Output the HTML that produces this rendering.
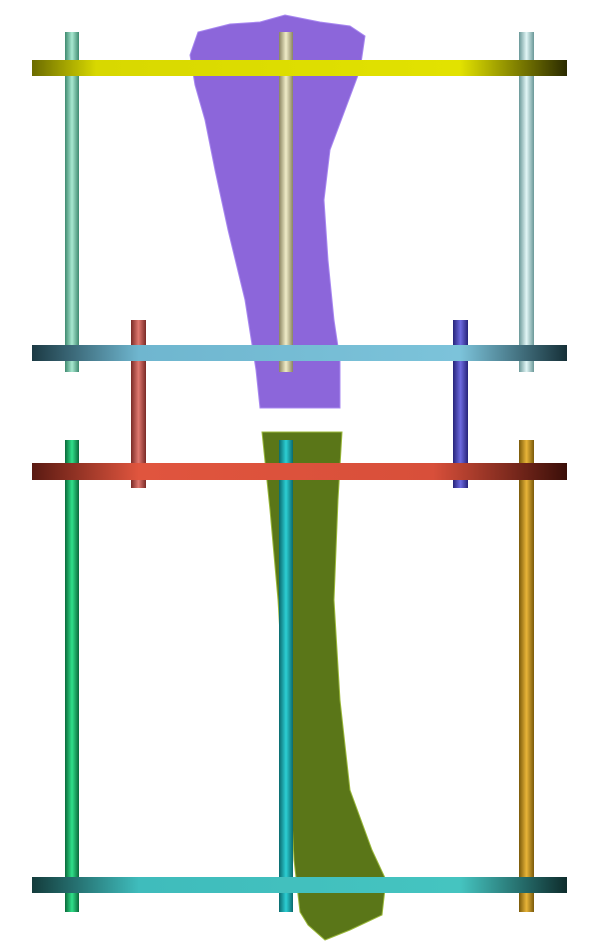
<!DOCTYPE html>
<html>
<head>
<meta charset="utf-8">
<style>
html,body{margin:0;padding:0;background:#fff;}
svg{display:block;}
</style>
</head>
<body>
<svg width="608" height="944" viewBox="0 0 608 944">
<defs>
  <linearGradient id="gY" x1="0" x2="1"><stop offset="0" stop-color="#6b6b00"/><stop offset="0.12" stop-color="#d8d800"/><stop offset="0.8" stop-color="#e2e200"/><stop offset="1" stop-color="#2a2a00"/></linearGradient>
  <linearGradient id="gB" x1="0" x2="1"><stop offset="0" stop-color="#1c3a44"/><stop offset="0.2" stop-color="#6fb6cf"/><stop offset="0.8" stop-color="#7cc3da"/><stop offset="1" stop-color="#163038"/></linearGradient>
  <linearGradient id="gR" x1="0" x2="1"><stop offset="0" stop-color="#5a1a12"/><stop offset="0.2" stop-color="#e0553e"/><stop offset="0.75" stop-color="#d84f3a"/><stop offset="1" stop-color="#3a0e08"/></linearGradient>
  <linearGradient id="gC" x1="0" x2="1"><stop offset="0" stop-color="#143c3c"/><stop offset="0.2" stop-color="#3fbcbc"/><stop offset="0.8" stop-color="#45c4c0"/><stop offset="1" stop-color="#0e2c2c"/></linearGradient>
  <linearGradient id="rod1" x1="0" x2="1"><stop offset="0" stop-color="#3f8a70"/><stop offset="0.5" stop-color="#a8e8d0"/><stop offset="1" stop-color="#3f8a70"/></linearGradient>
  <linearGradient id="rod2" x1="0" x2="1"><stop offset="0" stop-color="#8a8460"/><stop offset="0.5" stop-color="#f0ecc8"/><stop offset="1" stop-color="#8a8460"/></linearGradient>
  <linearGradient id="rod3" x1="0" x2="1"><stop offset="0" stop-color="#6a9898"/><stop offset="0.5" stop-color="#e2f6f6"/><stop offset="1" stop-color="#6a9898"/></linearGradient>
  <linearGradient id="rod4" x1="0" x2="1"><stop offset="0" stop-color="#7a2a26"/><stop offset="0.5" stop-color="#e07870"/><stop offset="1" stop-color="#7a2a26"/></linearGradient>
  <linearGradient id="rod5" x1="0" x2="1"><stop offset="0" stop-color="#26237a"/><stop offset="0.5" stop-color="#6d6ae0"/><stop offset="1" stop-color="#26237a"/></linearGradient>
  <linearGradient id="rod6" x1="0" x2="1"><stop offset="0" stop-color="#0a6a3a"/><stop offset="0.5" stop-color="#30e08a"/><stop offset="1" stop-color="#0a6a3a"/></linearGradient>
  <linearGradient id="rod7" x1="0" x2="1"><stop offset="0" stop-color="#0a6a6e"/><stop offset="0.5" stop-color="#2ccfd4"/><stop offset="1" stop-color="#0a6a6e"/></linearGradient>
  <linearGradient id="rod8" x1="0" x2="1"><stop offset="0" stop-color="#7a5a0a"/><stop offset="0.5" stop-color="#e8b438"/><stop offset="1" stop-color="#7a5a0a"/></linearGradient>
</defs>

<path fill="#8c66da" stroke="#a888f0" stroke-width="1"
 d="M190,55 L198,32 L230,24 L260,22 L285,15 L300,18 L320,22 L350,26 L365,36 L360,70 L345,110 L330,150 L324,200 L328,260 L334,320 L340,360 L340,408 L260,408 L256,370 L245,300 L228,230 L215,170 L205,120 L195,85 Z"/>

<path fill="#5a7618" stroke="#9ab83a" stroke-width="1"
 d="M262,432 L342,432 L338,500 L334,600 L340,700 L350,790 L372,850 L386,880 L382,915 L350,930 L325,940 L308,925 L300,912 L294,860 L290,780 L284,700 L278,600 L270,510 Z"/>

<g>
  <rect x="65" y="32" width="14" height="340" fill="url(#rod1)"/>
  <rect x="279" y="32" width="14" height="340" fill="url(#rod2)"/>
  <rect x="519" y="32" width="15" height="340" fill="url(#rod3)"/>
</g>
<g>
  <rect x="131" y="320" width="15" height="168" fill="url(#rod4)"/>
  <rect x="453" y="320" width="15" height="168" fill="url(#rod5)"/>
</g>
<g>
  <rect x="65" y="440" width="14" height="472" fill="url(#rod6)"/>
  <rect x="279" y="440" width="14" height="472" fill="url(#rod7)"/>
  <rect x="519" y="440" width="15" height="472" fill="url(#rod8)"/>
</g>

<rect x="32" y="60" width="535" height="16" fill="url(#gY)"/>
<rect x="32" y="345" width="535" height="16" fill="url(#gB)"/>
<rect x="32" y="463" width="535" height="17" fill="url(#gR)"/>
<rect x="32" y="877" width="535" height="16" fill="url(#gC)"/>
</svg>
</body>
</html>
